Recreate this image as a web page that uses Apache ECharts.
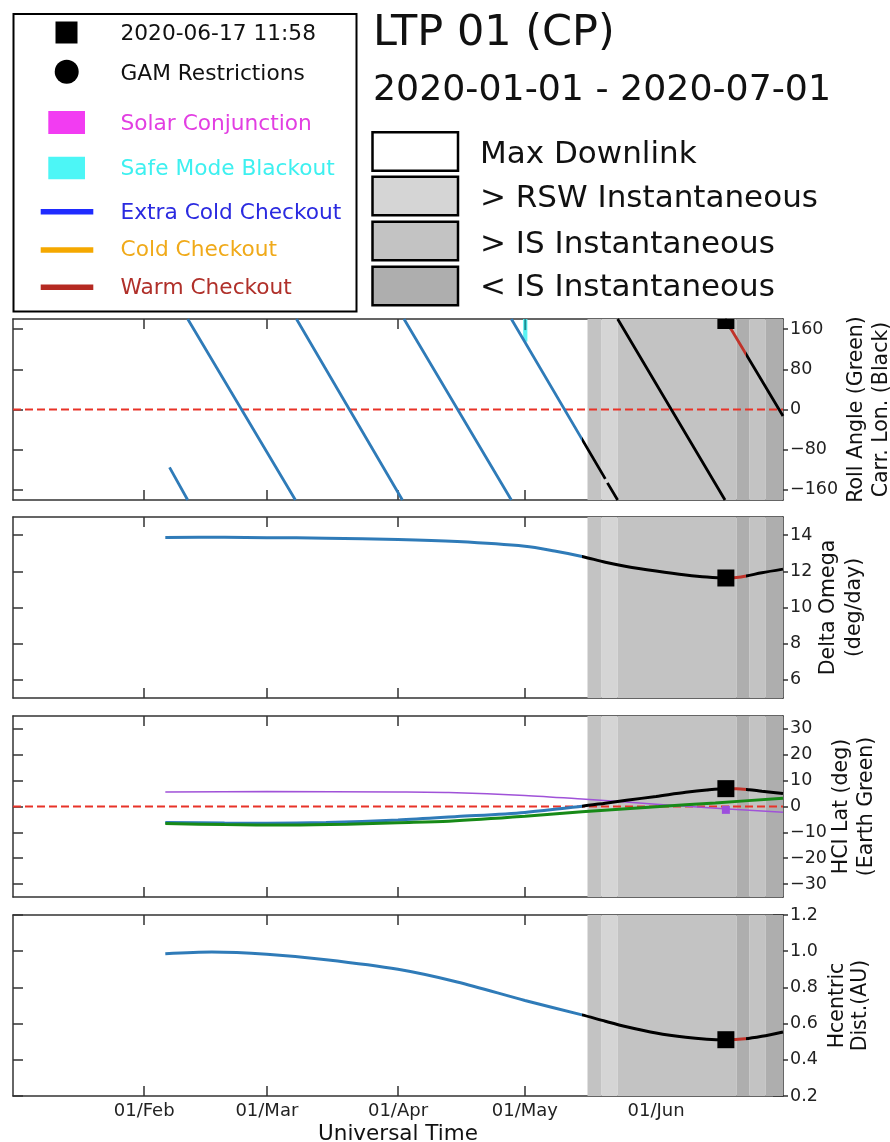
<!DOCTYPE html>
<html>
<head>
<meta charset="utf-8">
<script src="https://cdn.jsdelivr.net/npm/echarts@6/dist/echarts.min.js"></script>
<style>
html,body{margin:0;padding:0;background:#fff}
#chart{width:890px;height:1142px}
</style>
</head>
<body>
<div id="chart"></div>
<script>
// ---------- data ----------
const xStart = '2020-01-01 00:00';
const xEnd = '2020-07-01 00:00';
const monthTicks = ['2020-02-01', '2020-03-01', '2020-04-01', '2020-05-01', '2020-06-01'];
const monthNames = ['Jan', 'Feb', 'Mar', 'Apr', 'May', 'Jun', 'Jul', 'Aug', 'Sep', 'Oct', 'Nov', 'Dec'];

const markerTime = '2020-06-17 11:58';
const nominalEnd = '2020-05-14 12:00';   // blue trace ends, black trace begins
const warmStart = '2020-06-18 12:00';    // warm checkout window
const warmEnd = '2020-06-22 07:00';

// Carrington longitude (deg), wrapping -180..180, one array per pass
const carrLonSegments = [
  [['2020-02-07 00:00', -115], ['2020-02-11 07:00', -180]],
  [['2020-02-11 07:00', 180], ['2020-03-07 18:00', -180]],
  [['2020-03-08 00:00', 180], ['2020-04-02 01:00', -180]],
  [['2020-04-02 10:00', 180], ['2020-04-27 19:00', -180]],
  [['2020-04-27 19:00', 180], ['2020-05-20 00:00', -138]],
  [['2020-05-20 12:00', -146], ['2020-05-22 22:00', -180]],
  [['2020-05-22 22:00', 180], ['2020-06-17 07:00', -180]],
  [['2020-06-17 07:00', 180], ['2020-07-01 00:00', -13]]
];

const safeModeWindow = ['2020-04-30 14:00', '2020-05-01 14:00'];
const safeModeRange = [135, 180];
const safeModeTick = ['2020-05-01 02:00', 158, 180];

const deltaOmega = [
  ['2020-02-06', 13.87], ['2020-02-20', 13.88], ['2020-03-01', 13.86], ['2020-03-15', 13.83],
  ['2020-04-01', 13.76], ['2020-04-15', 13.64], ['2020-05-01', 13.38], ['2020-05-08', 13.12],
  ['2020-05-14 12:00', 12.82], ['2020-05-20', 12.50], ['2020-05-25', 12.27], ['2020-06-01', 12.02],
  ['2020-06-08', 11.80], ['2020-06-13', 11.68], ['2020-06-17 12:00', 11.63], ['2020-06-20', 11.66],
  ['2020-06-22 07:00', 11.74], ['2020-06-26', 11.92], ['2020-07-01', 12.12]
];

const hciLat = [
  ['2020-02-06', -6.2], ['2020-02-20', -6.4], ['2020-03-01', -6.5], ['2020-03-15', -6.2],
  ['2020-04-01', -5.2], ['2020-04-15', -3.9], ['2020-05-01', -2.3], ['2020-05-14 12:00', 0.1],
  ['2020-05-20', 1.3], ['2020-05-25', 2.4], ['2020-06-01', 3.9], ['2020-06-08', 5.5],
  ['2020-06-13', 6.4], ['2020-06-17 12:00', 6.9], ['2020-06-20', 6.9], ['2020-06-23', 6.5],
  ['2020-06-26', 5.9], ['2020-07-01', 5.0]
];

const earthLat = [
  ['2020-02-06', -6.6], ['2020-02-20', -7.0], ['2020-03-06', -7.2], ['2020-03-20', -6.9],
  ['2020-04-01', -6.3], ['2020-04-13', -5.7], ['2020-05-01', -3.8], ['2020-05-14 12:00', -2.0],
  ['2020-06-01', -0.1], ['2020-06-15', 1.4], ['2020-07-01', 3.2]
];

const purpleLat = [
  ['2020-02-06', 5.6], ['2020-03-01', 5.8], ['2020-04-01', 5.6], ['2020-04-13', 5.4],
  ['2020-05-01', 4.3], ['2020-05-14 12:00', 2.9], ['2020-06-01', 0.9], ['2020-06-17', -0.9],
  ['2020-07-01', -2.2]
];
const purpleMarker = -1.3;

const helioDist = [
  ['2020-02-06', 0.986], ['2020-02-17', 0.995], ['2020-03-01', 0.983], ['2020-03-15', 0.953],
  ['2020-04-01', 0.900], ['2020-04-15', 0.830], ['2020-05-01', 0.728], ['2020-05-14 12:00', 0.648],
  ['2020-05-20', 0.613], ['2020-05-25', 0.583], ['2020-06-01', 0.548], ['2020-06-08', 0.524],
  ['2020-06-13', 0.514], ['2020-06-17 12:00', 0.511], ['2020-06-22', 0.516], ['2020-06-26', 0.530],
  ['2020-07-01', 0.554]
];

// marker values on each panel at markerTime
const markerValues = [177, 11.63, 6.9, 0.511];

// downlink class bands
const downlinkBands = [
  ['2020-05-15 19:00', '2020-05-19 03:00', 'is'],
  ['2020-05-19 03:00', '2020-05-22 22:00', 'rsw'],
  ['2020-05-22 22:00', '2020-06-20 01:00', 'is'],
  ['2020-06-20 01:00', '2020-06-23 00:00', 'below'],
  ['2020-06-23 00:00', '2020-06-26 22:00', 'is'],
  ['2020-06-26 22:00', '2020-07-01 00:00', 'below']
];

// panel y axes
const yRanges = [[-180, 180], [5, 15], [-35, 35], [0.2, 1.2]];
const yTicks = [
  [-160, -80, 0, 80, 160],
  [6, 8, 10, 12, 14],
  [-30, -20, -10, 0, 10, 20, 30],
  [0.2, 0.4, 0.6, 0.8, 1.0, 1.2]
];
const yNames = [
  'Roll Angle (Green)\nCarr. Lon. (Black)',
  'Delta Omega\n(deg/day)',
  'HCI Lat (deg)\n(Earth Green)',
  'Hcentric\nDist.(AU)'
];

// legend labels
const markerLegend = ['2020-06-17 11:58', 'GAM Restrictions', 'Solar Conjunction', 'Safe Mode Blackout',
  'Extra Cold Checkout', 'Cold Checkout', 'Warm Checkout'];
const downlinkLegend = ['Max Downlink', '> RSW Instantaneous', '> IS Instantaneous', '< IS Instantaneous'];
const titleText = 'LTP 01 (CP)';
const rangeText = '2020-01-01 - 2020-07-01';

// ---------- styles ----------
const FONT = 'DejaVu Sans';
const BLUE = '#2f7bb8';
const WARM = '#c0332a';
const AXIS = '#333';
const bandColors = { max: '#ffffff', rsw: '#d5d5d5', is: '#c3c3c3', below: '#aeaeae' };

// UTC timestamp (ms) from 'YYYY-MM-DD[ HH:mm]'
function t(s) {
  const parts = s.split(' ');
  const [Y, M, D] = parts[0].split('-').map(Number);
  const [h, m] = (parts[1] || '00:00').split(':').map(Number);
  return Date.UTC(Y, M - 1, D, h, m);
}
const pts = arr => arr.map(p => [t(p[0]), p[1]]);

const gridTops = [319, 517, 716, 915];
const gridH = 181;
const gridLeft = 13;
const gridRight = 107;
const nameGaps = [61.5, 32.5, 46.5, 43.5];
const nameLineHeights = [25, 26, 25, 23];

const grids = gridTops.map(top => ({
  left: gridLeft, right: gridRight, top: top, height: gridH,
  containLabel: false, outerBoundsMode: 'none'
}));

const axisLine = { show: true, onZero: false, lineStyle: { color: AXIS, width: 1.5 } };
const tickLine = { color: AXIS, width: 1.5 };
const monthTickValues = monthTicks.map(t);
const dayLabel = v => {
  const d = new Date(v);
  return String(d.getUTCDate()).padStart(2, '0') + '/' + monthNames[d.getUTCMonth()];
};

const xAxes = [];
const yAxes = [];
gridTops.forEach((_, i) => {
  xAxes.push({
    type: 'value', gridIndex: i, position: 'bottom', min: t(xStart), max: t(xEnd), scale: true,
    axisLine: axisLine,
    axisTick: { show: true, inside: true, length: 10, customValues: monthTickValues, lineStyle: tickLine },
    axisLabel: {
      show: i === 3, customValues: monthTickValues, margin: 6, fontSize: 18, color: '#222', fontFamily: FONT,
      formatter: dayLabel
    },
    splitLine: { show: false },
    name: i === 3 ? 'Universal Time' : '', nameLocation: 'middle', nameGap: 27, nameMoveOverlap: false,
    nameTextStyle: { fontSize: 21.5, color: '#111', fontFamily: FONT }
  });
  xAxes.push({
    type: 'value', gridIndex: i, position: 'top', min: t(xStart), max: t(xEnd), scale: true,
    axisLine: axisLine,
    axisTick: { show: true, inside: true, length: 10, customValues: monthTickValues, lineStyle: tickLine },
    axisLabel: { show: false }, splitLine: { show: false }
  });
  const [mn, mx] = yRanges[i];
  yAxes.push({
    type: 'value', gridIndex: i, position: 'right', min: mn, max: mx,
    axisLine: axisLine,
    axisTick: { show: true, inside: false, length: 5, customValues: yTicks[i], lineStyle: tickLine },
    axisLabel: {
      customValues: yTicks[i], margin: 7, fontSize: 17.5, color: '#222', fontFamily: FONT,
      formatter: v => (i === 3 ? v.toFixed(1) : String(v)).replace('-', '\u2212')
    },
    splitLine: { show: false },
    name: yNames[i], nameLocation: 'middle', nameRotate: 90, nameGap: nameGaps[i], nameMoveOverlap: false,
    nameTextStyle: { fontSize: 20.5, lineHeight: nameLineHeights[i], color: '#111', fontFamily: FONT, align: 'center' }
  });
  yAxes.push({
    type: 'value', gridIndex: i, position: 'right', min: mn, max: mx,
    axisLine: { show: false, onZero: false },
    axisTick: { show: true, inside: true, length: 10, customValues: yTicks[i], lineStyle: tickLine },
    axisLabel: { show: false }, splitLine: { show: false }
  });
  yAxes.push({
    type: 'value', gridIndex: i, position: 'left', min: mn, max: mx,
    axisLine: axisLine,
    axisTick: { show: true, inside: true, length: 10, customValues: yTicks[i], lineStyle: tickLine },
    axisLabel: { show: false }, splitLine: { show: false }
  });
});

const series = [];
const spacecraftSeries = [];
function ax(i) { return { xAxisIndex: 2 * i, yAxisIndex: 3 * i }; }

function bandSeries(i) {
  return Object.assign({
    type: 'line', data: [[t(xStart), null]], symbol: 'none', silent: true, z: 0,
    markArea: {
      silent: true,
      data: downlinkBands.map(b => [
        { xAxis: t(b[0]), itemStyle: { color: bandColors[b[2]], borderWidth: 0 } },
        { xAxis: t(b[1]) }
      ])
    }
  }, ax(i));
}
function zeroLine(i) {
  return Object.assign({
    type: 'line', data: [[t(xStart), 0], [t(xEnd), 0]], symbol: 'none', silent: true, z: 2,
    lineStyle: { color: '#e83328', width: 2.2, type: [8, 4] }
  }, ax(i));
}
function traceSeries(i, data, width) {
  spacecraftSeries.push(series.length);
  return Object.assign({
    type: 'line', data: data, symbol: 'none', smooth: 0.3, silent: true, z: 4,
    lineStyle: { width: width }
  }, ax(i));
}
function squareSeries(i, value, size, color) {
  return Object.assign({
    type: 'custom', clip: true, silent: true, z: 6,
    data: [[t(markerTime), value]],
    renderItem: (params, api) => {
      const p = api.coord([api.value(0), api.value(1)]);
      return { type: 'rect', shape: { x: p[0] - size / 2, y: p[1] - size / 2, width: size, height: size }, style: { fill: color } };
    }
  }, ax(i));
}

// panel 1: Carrington longitude
series.push(bandSeries(0));
series.push(Object.assign({
  type: 'line', data: [[t(xStart), null]], symbol: 'none', silent: true, z: 1,
  markArea: {
    silent: true,
    data: [[
      { xAxis: t(safeModeWindow[0]), yAxis: safeModeRange[0], itemStyle: { color: '#5cf4f4' } },
      { xAxis: t(safeModeWindow[1]), yAxis: safeModeRange[1] }
    ]]
  }
}, ax(0)));
series.push(Object.assign({
  type: 'line', symbol: 'none', silent: true, z: 3,
  data: [[t(safeModeTick[0]), safeModeTick[1]], [t(safeModeTick[0]), safeModeTick[2]]],
  lineStyle: { color: '#1e8c92', width: 2 }
}, ax(0)));
series.push(zeroLine(0));
{
  const flat = [];
  carrLonSegments.forEach((seg, k) => {
    if (k > 0) flat.push([t(seg[0][0]), null]);
    pts(seg).forEach(p => flat.push(p));
  });
  const s = traceSeries(0, flat, 2.8);
  s.smooth = false;
  series.push(s);
}
series.push(squareSeries(0, markerValues[0], 17, '#000'));

// panel 2: Delta Omega
series.push(bandSeries(1));
series.push(traceSeries(1, pts(deltaOmega), 3));
series.push(squareSeries(1, markerValues[1], 17, '#000'));

// panel 3: HCI latitude
series.push(bandSeries(2));
series.push(zeroLine(2));
series.push(Object.assign({
  type: 'line', data: pts(purpleLat), symbol: 'none', smooth: 0.3, silent: true, z: 3,
  lineStyle: { color: '#a052d8', width: 1.5 }
}, ax(2)));
series.push(traceSeries(2, pts(hciLat), 3));
series.push(Object.assign({
  type: 'line', data: pts(earthLat), symbol: 'none', smooth: 0.3, silent: true, z: 5,
  lineStyle: { color: '#178a17', width: 3 }
}, ax(2)));
series.push(squareSeries(2, markerValues[2], 17, '#000'));
series.push(squareSeries(2, purpleMarker, 8, '#9d4edd'));

// panel 4: heliocentric distance
series.push(bandSeries(3));
series.push(traceSeries(3, pts(helioDist), 3));
series.push(squareSeries(3, markerValues[3], 17, '#000'));

// ---------- header graphics: legends and title ----------
const legendColors = ['#111', '#111', '#e23ee2', '#3ef0f0', '#2a2ae0', '#f0aa1a', '#b0302a'];
const legendYs = [34.6, 74.6, 124, 169.3, 213.3, 250.8, 288.8];
const graphics = [
  { type: 'rect', shape: { x: 13.5, y: 14, width: 343, height: 297.5 }, style: { fill: '#fff', stroke: '#000', lineWidth: 2 } },
  { type: 'rect', shape: { x: 55.5, y: 21.5, width: 22, height: 22 }, style: { fill: '#000' } },
  { type: 'circle', shape: { cx: 66.7, cy: 71.7, r: 12 }, style: { fill: '#000' } },
  { type: 'rect', shape: { x: 48.3, y: 111, width: 36.7, height: 23 }, style: { fill: '#f23cf2' } },
  { type: 'rect', shape: { x: 48.3, y: 156.7, width: 36.7, height: 22.6 }, style: { fill: '#4cf6f6' } },
  { type: 'line', shape: { x1: 40.7, y1: 211.7, x2: 93.3, y2: 211.7 }, style: { stroke: '#1f2bff', lineWidth: 5.5 } },
  { type: 'line', shape: { x1: 40.7, y1: 250, x2: 93.3, y2: 250 }, style: { stroke: '#f5a800', lineWidth: 5.5 } },
  { type: 'line', shape: { x1: 40.7, y1: 287.3, x2: 93.3, y2: 287.3 }, style: { stroke: '#b52a22', lineWidth: 5.5 } },
  { type: 'text', x: 373, y: 33.5, style: { text: titleText, font: '43px "DejaVu Sans"', fill: '#111', verticalAlign: 'middle' } },
  { type: 'text', x: 373, y: 91, style: { text: rangeText, font: '36.3px "DejaVu Sans"', fill: '#111', verticalAlign: 'middle' } }
];
markerLegend.forEach((label, k) => {
  graphics.push({ type: 'text', x: 120.5, y: legendYs[k], style: { text: label, font: '21.7px "DejaVu Sans"', fill: legendColors[k], verticalAlign: 'middle' } });
});
const boxTops = [132.3, 176.7, 221.7, 266.7];
const boxTextYs = [154.5, 198.7, 244.5, 288];
const boxFills = [bandColors.max, bandColors.rsw, bandColors.is, bandColors.below];
downlinkLegend.forEach((label, k) => {
  graphics.push({ type: 'rect', shape: { x: 372.5, y: boxTops[k], width: 85.5, height: 38.5 }, style: { fill: boxFills[k], stroke: '#000', lineWidth: 2.5 } });
  graphics.push({ type: 'text', x: 480, y: boxTextYs[k], style: { text: label, font: '31px "DejaVu Sans"', fill: '#111', verticalAlign: 'middle' } });
});

const option = {
  animation: false,
  backgroundColor: '#fff',
  textStyle: { fontFamily: FONT },
  grid: grids,
  xAxis: xAxes,
  yAxis: yAxes,
  visualMap: [{
    type: 'piecewise', show: false, dimension: 0, seriesIndex: spacecraftSeries,
    pieces: [
      { lt: t(nominalEnd), color: BLUE },
      { gte: t(nominalEnd), lt: t(warmStart), color: '#000' },
      { gte: t(warmStart), lt: t(warmEnd), color: WARM },
      { gte: t(warmEnd), color: '#000' }
    ]
  }],
  series: series,
  graphic: graphics
};

const chart = echarts.init(document.getElementById('chart'), null, { renderer: 'canvas' });
chart.setOption(option);
</script>
</body>
</html>
